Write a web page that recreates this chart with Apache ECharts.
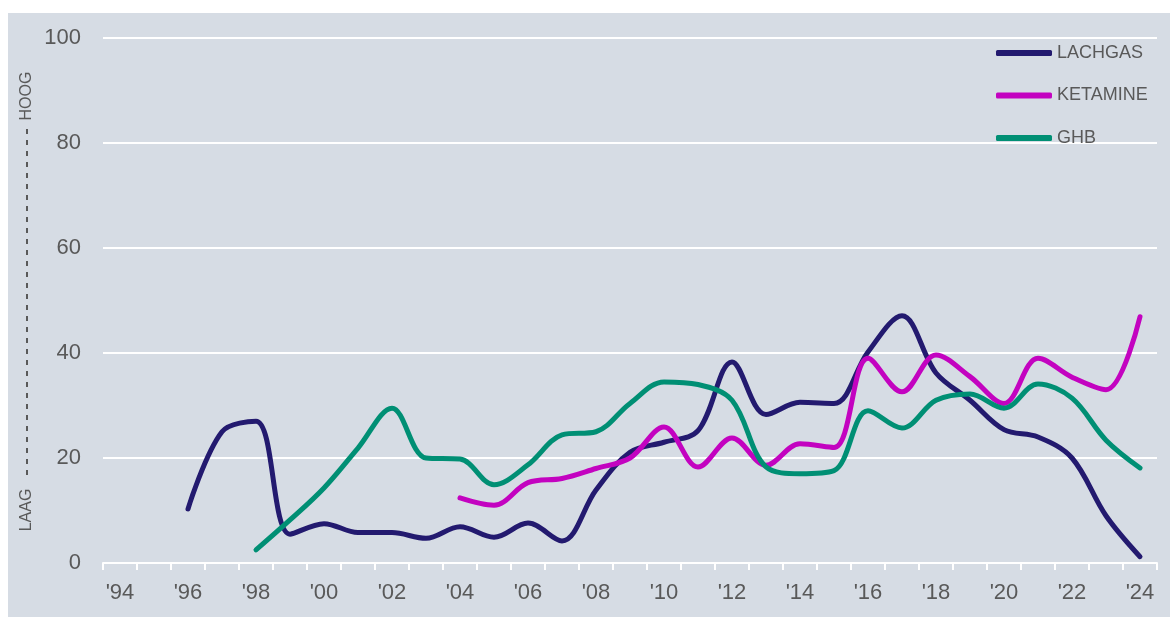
<!DOCTYPE html>
<html>
<head>
<meta charset="utf-8">
<script src="https://cdn.jsdelivr.net/npm/echarts@6/dist/echarts.min.js"></script>
<style>
  html, body { margin: 0; padding: 0; background: #fff; }
  #chart { position: absolute; left: 8px; top: 13px; width: 1162px; height: 604px; }
</style>
</head>
<body>
<div id="chart"></div>
<script>
// jaren 1994 t/m 2024
const years = [1994, 1995, 1996, 1997, 1998, 1999, 2000, 2001, 2002, 2003, 2004,
  2005, 2006, 2007, 2008, 2009, 2010, 2011, 2012, 2013, 2014,
  2015, 2016, 2017, 2018, 2019, 2020, 2021, 2022, 2023, 2024];

const lachgas = [null, null, 10.3, 25.0, 27.0, 5.5, 7.5, 5.8, 5.8, 4.7, 6.9,
  4.9, 7.6, 4.2, 13.9, 21.1, 23.0, 25.2, 38.3, 28.3, 30.6,
  30.4, 40.2, 47.1, 36.2, 31.0, 25.4, 24.0, 20.0, 9.0, 1.2];

const ketamine = [null, null, null, null, null, null, null, null, null, null, 12.4,
  11.0, 15.3, 16.1, 18.0, 20.0, 25.9, 18.3, 23.8, 18.6, 22.7,
  22.0, 39.0, 32.6, 39.6, 35.5, 30.4, 39.0, 35.4, 33.0, 46.9];

const ghb = [null, null, null, null, 2.5, 8.2, 14.3, 21.9, 29.5, 20.0, 19.8,
  14.9, 18.7, 24.4, 25.0, 30.4, 34.5, 34.0, 31.0, 18.3, 17.0,
  17.6, 29.0, 25.7, 31.0, 32.2, 29.5, 34.1, 31.4, 23.4, 18.1];

const yTicks = [0, 20, 40, 60, 80, 100];

const grey = '#595959';
const font = '"Liberation Sans", Arial, sans-serif';

const chart = echarts.init(document.getElementById('chart'));

function lineSeries(name, data, color) {
  return {
    name: name,
    type: 'line',
    data: data,
    smooth: 0.35,
    showSymbol: false,
    connectNulls: false,
    lineStyle: { width: 5, color: color, cap: 'round', join: 'round' },
    itemStyle: { color: color },
    emphasis: { disabled: true }
  };
}

chart.setOption({
  backgroundColor: '#d6dce4',
  animation: false,
  grid: { left: 95, right: 13, top: 25, bottom: 54 },
  legend: {
    orient: 'vertical',
    left: 983,
    top: 26,
    itemWidth: 56,
    itemHeight: 6,
    itemGap: 24.5,
    icon: 'roundRect',
    textStyle: { color: grey, fontSize: 18, fontFamily: font },
    data: ['LACHGAS', 'KETAMINE', 'GHB']
  },
  xAxis: {
    type: 'category',
    boundaryGap: true,
    data: years,
    axisLine: { lineStyle: { color: '#fff', width: 2 } },
    axisTick: { show: true, interval: 0, length: 7, lineStyle: { color: '#fff', width: 2 } },
    axisLabel: {
      interval: 1,
      color: grey,
      fontSize: 22,
      fontFamily: font,
      margin: 19,
      formatter: v => "'" + String(v).slice(2)
    },
    splitLine: { show: false }
  },
  yAxis: {
    type: 'value',
    min: yTicks[0],
    max: yTicks[yTicks.length - 1],
    interval: 20,
    axisLine: { show: false },
    axisTick: { show: false },
    axisLabel: { color: grey, fontSize: 22, fontFamily: font, margin: 22 },
    splitLine: { lineStyle: { color: '#fff', width: 2 } }
  },
  graphic: [
    {
      type: 'text',
      x: 19, y: 83,
      rotation: Math.PI / 2,
      style: { text: 'HOOG', fill: grey, font: '16px ' + font, align: 'center', verticalAlign: 'middle' }
    },
    {
      type: 'text',
      x: 19, y: 497,
      rotation: Math.PI / 2,
      style: { text: 'LAAG', fill: grey, font: '16px ' + font, align: 'center', verticalAlign: 'middle' }
    },
    {
      type: 'line',
      shape: { x1: 19, y1: 116, x2: 19, y2: 468 },
      style: { stroke: grey, lineWidth: 2, lineDash: [5, 6] }
    }
  ],
  series: [
    lineSeries('LACHGAS', lachgas, '#231a6f'),
    lineSeries('KETAMINE', ketamine, '#c303c0'),
    lineSeries('GHB', ghb, '#008f74')
  ]
});
</script>
</body>
</html>
